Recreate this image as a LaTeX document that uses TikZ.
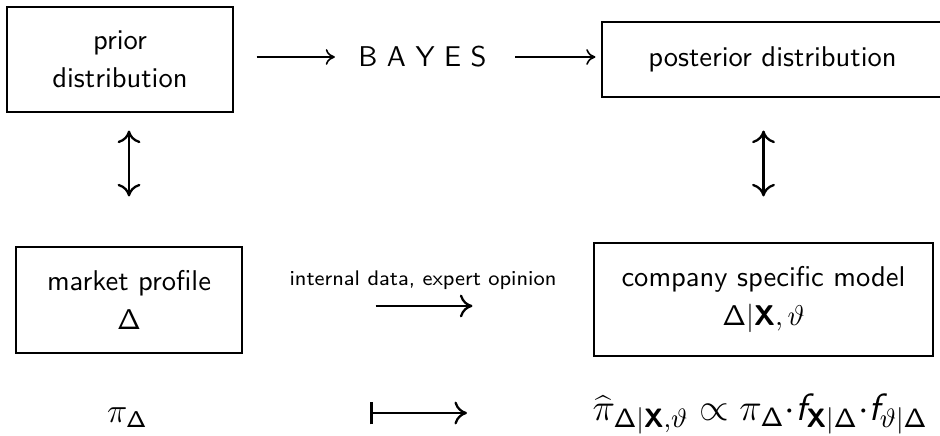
\RequirePackage{fix-cm}
\documentclass[tikz,border=0pt]{standalone}
\usetikzlibrary{arrows.meta}
\renewcommand{\familydefault}{\sfdefault}
% sans-serif letters inside formulas
\DeclareMathAlphabet{\mathsfbf}{OT1}{cmss}{bx}{n}
\DeclareMathAlphabet{\mathsfsl}{OT1}{cmss}{m}{sl}
\newcommand{\Dl}{\mathsf{\Delta}}
\newcommand{\Xb}{\mathsfbf{X}}
\newcommand{\fs}{\mathsfsl{f}}

\begin{document}
\begin{tikzpicture}[x=0.35pt,y=-0.35pt,
  box/.style={draw, line width=0.4pt, inner sep=0pt, align=center, font=\fontsize{10}{13.5}\selectfont},
  plain/.style={inner sep=0pt, align=center},
  toparrow/.style={line width=0.55pt, -{Computer Modern Rightarrow[length=3.2pt,width=5.5pt]}},
  bigarrow/.style={line width=0.8pt, -{Computer Modern Rightarrow[length=4.4pt,width=8pt]}},
  updown/.style={line width=0.8pt, {Computer Modern Rightarrow[length=4.4pt,width=8pt]}-{Computer Modern Rightarrow[length=4.4pt,width=8pt]}},
  mapsarrow/.style={line width=0.8pt, {Bar[width=8pt]}-{Computer Modern Rightarrow[length=4.4pt,width=8pt]}},
]
\useasboundingbox (0,0) rectangle (940,436);

% boxes
\node[box, minimum width=79.1pt, minimum height=36.75pt] (prior) at (120,59.5) {prior\\distribution};
\node[box, minimum width=119.35pt, minimum height=26.25pt] (post) at (772.5,59.5) {posterior distribution};
\node[box, minimum width=79.1pt, minimum height=37.1pt] (market) at (129,300) {market profile\\$\Dl$};
\node[box, minimum width=118.65pt, minimum height=39.55pt] (company) at (763.5,299.5) {company specific model\\$\Dl|\Xb,\vartheta$};

% free texts
\node[plain] (bayes) at (422.5,57) {B A Y E S};
\node[plain, font=\fontsize{7.4}{9}\selectfont] (info) at (423,280) {internal data, expert opinion};
\node[plain, font=\large] (prio) at (127.5,418) {$\pi_{\Dl}$};
\node[plain, font=\fontsize{13.3}{16}\selectfont, anchor=west] (postf) at (592,414)
  {$\widehat{\pi}_{\Dl|\Xb,\vartheta}\propto\pi_{\Dl}{\cdot}\fs_{\Xb|\Dl}{\cdot}\fs_{\vartheta|\Dl}$};

% top row
\draw[toparrow] ([xshift=23*0.35pt]prior.east |- bayes.west) -- ([xshift=-23*0.35pt]bayes.west);
\draw[toparrow] ([xshift=28*0.35pt]bayes.east) -- ([xshift=-6*0.35pt]post.west |- bayes.east);

% vertical links
\draw[updown] ([yshift=-18*0.35pt]prior.south -| market.north) -- ([yshift=50*0.35pt]market.north);
\draw[updown] ([yshift=-33*0.35pt]post.south -| company.north) -- ([yshift=46*0.35pt]company.north);

% middle row
\draw[bigarrow] ([xshift=133*0.35pt]market.east |- 0,306) -- ([xshift=-121*0.35pt]company.west |- 0,306);

% bottom row
\draw[mapsarrow] ([xshift=222*0.35pt]prio.east |- 0,413) -- ([xshift=-125*0.35pt]postf.west |- 0,413);
\end{tikzpicture}
\end{document}
